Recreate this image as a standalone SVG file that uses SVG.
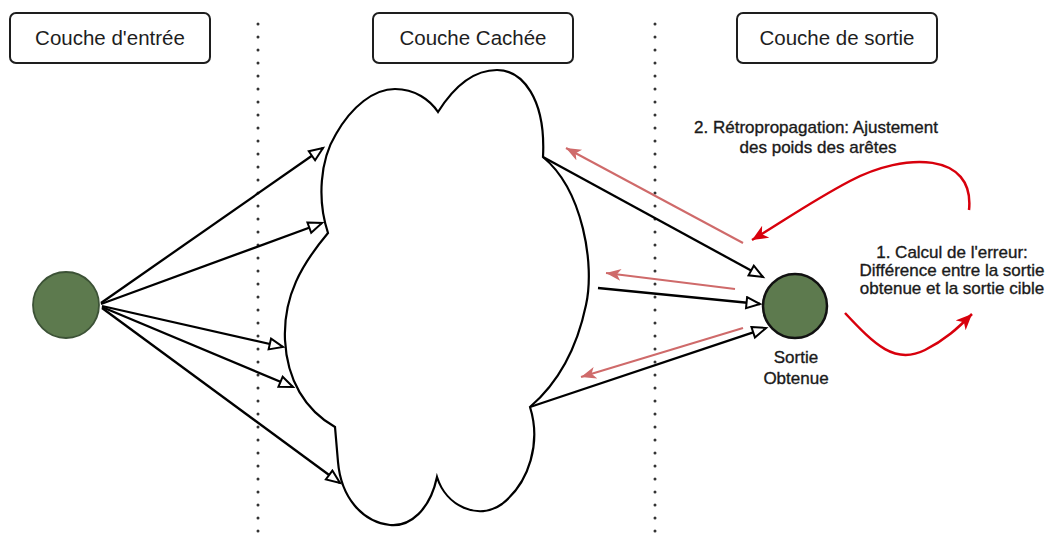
<svg xmlns="http://www.w3.org/2000/svg" width="1051" height="543" viewBox="0 0 1051 543">
  <style>
    .title { font-family: "Liberation Sans", Arial, sans-serif; font-size: 20.5px; fill: #1e1e1e; text-anchor: middle; }
    .note { font-family: "Liberation Sans", Arial, sans-serif; font-size: 17px; fill: #1a1a1a; stroke: #1a1a1a; stroke-width: 0.35; text-anchor: middle; }
    .box { fill: #ffffff; stroke: #1e1e1e; stroke-width: 2; }
    .sep { stroke: #333; stroke-width: 3; stroke-linecap: round; stroke-dasharray: 0 13; fill: none; }
    .fwd { stroke: #000; stroke-width: 2.3; fill: none; marker-end: url(#openHead); }
    .back { stroke: #cf6a6a; stroke-width: 2; fill: none; marker-end: url(#paleHead); }
    .err { stroke: #d8000c; stroke-width: 2.5; fill: none; marker-end: url(#redHead); }
    .neuron { fill: #5d7a4e; }
  </style>
  <defs>
    <marker id="openHead" markerUnits="userSpaceOnUse" markerWidth="18" markerHeight="16" refX="15" refY="7" orient="auto">
      <path d="M1.5,1.5 L15,7 L1.5,12.5 Z" fill="#fff" stroke="#000" stroke-width="2" stroke-linejoin="miter"/>
    </marker>
    <marker id="paleHead" markerUnits="userSpaceOnUse" markerWidth="18" markerHeight="14" refX="15" refY="6" orient="auto">
      <path d="M0,0 L15,6 L0,12 L4,6 Z" fill="#cf6a6a"/>
    </marker>
    <marker id="redHead" markerUnits="userSpaceOnUse" markerWidth="20" markerHeight="16" refX="16" refY="7" orient="auto">
      <path d="M0,0 L16,7 L0,14 L4.5,7 Z" fill="#d8000c"/>
    </marker>
  </defs>

  <!-- layer separators -->
  <g id="separators">
    <line class="sep" x1="258" y1="24" x2="258" y2="543"/>
    <line class="sep" x1="655" y1="24" x2="655" y2="543"/>
  </g>

  <!-- layer headers -->
  <g id="header-input">
    <rect class="box" x="10" y="13" width="200" height="50" rx="6"/>
    <text class="title" x="110" y="45">Couche d'entrée</text>
  </g>
  <g id="header-hidden">
    <rect class="box" x="373" y="13" width="200" height="50" rx="6"/>
    <text class="title" x="473" y="45">Couche Cachée</text>
  </g>
  <g id="header-output">
    <rect class="box" x="737" y="13" width="200" height="50" rx="6"/>
    <text class="title" x="837" y="45">Couche de sortie</text>
  </g>

  <!-- hidden layer cloud -->
  <g id="hidden-cloud">
    <path d="M328,233 C317,200 320,160 336,134 C352,106 374,89 395,89 C415,89 430,100 438,112
             C455,85 475,70 497,70 C522,70 546,98 543,157
             C583,190 595,265 586,305 C577,348 558,383 530,407
             C541,442 530,482 502,504 C478,521 446,506 437,477
             C430,510 410,527 390,525 C362,522 341,497 338,462 L335,427
             C305,410 287,380 285,340 C283,296 302,264 328,233 Z"
          fill="#fff" stroke="#000" stroke-width="2.2" stroke-linejoin="miter"/>
  </g>

  <!-- neurons -->
  <g id="input-neuron">
    <circle class="neuron" cx="66" cy="305" r="33" stroke="#3c5236" stroke-width="1.8"/>
  </g>
  <g id="output-neuron">
    <circle class="neuron" cx="795" cy="306" r="32" stroke="#111" stroke-width="2.5"/>
    <text class="note" x="796" y="363">Sortie</text>
    <text class="note" x="796" y="384">Obtenue</text>
  </g>

  <!-- connectors -->
  <g id="connectors">
    <line class="fwd" x1="101" y1="303" x2="323" y2="148"/>
    <line class="fwd" x1="101" y1="304" x2="322" y2="223"/>
    <line class="fwd" x1="102" y1="306" x2="283" y2="347"/>
    <line class="fwd" x1="102" y1="307" x2="293" y2="387"/>
    <line class="fwd" x1="102" y1="308" x2="340" y2="483"/>

    <line class="fwd" x1="543" y1="157" x2="763" y2="277"/>
    <line class="fwd" x1="598" y1="288" x2="760" y2="304"/>
    <line class="fwd" x1="530" y1="407" x2="766" y2="328"/>

    <line class="back" x1="743" y1="243" x2="566" y2="148"/>
    <line class="back" x1="735" y1="289" x2="606" y2="273"/>
    <line class="back" x1="743" y1="328" x2="581" y2="377"/>

    <path class="err" d="M969,210 C975,152 905,152 850,181 C812,201 782,222 752,240"/>
    <path class="err" d="M845,313 C875,345 895,365 925,350 C945,340 958,328 972,314"/>
  </g>

  <!-- annotations -->
  <g id="label-backprop">
    <text class="note" x="816" y="133">2. Rétropropagation: Ajustement</text>
    <text class="note" x="818" y="153">des poids des arêtes</text>
  </g>
  <g id="label-error">
    <text class="note" x="952" y="258">1. Calcul de l'erreur:</text>
    <text class="note" x="952" y="276">Différence entre la sortie</text>
    <text class="note" x="952" y="294">obtenue et la sortie cible</text>
  </g>
</svg>
